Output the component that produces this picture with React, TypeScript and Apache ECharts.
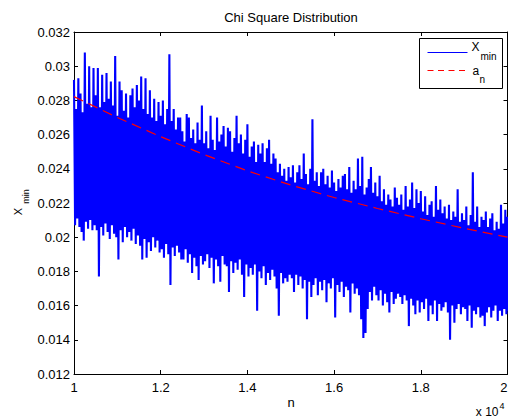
import React, { useEffect, useRef } from "react";
import * as echarts from "echarts";

// n axis: one column every 50 values of n, starting at 10000
const N_START = 10000;
const N_STEP = 50;

// X_min: upper and lower excursions read per column (values)
const xminHigh = [
  0.0292, 0.0275, 0.0293, 0.0284, 0.0273, 0.0308, 0.0278, 0.0300, 0.0276, 0.0299,
  0.0283, 0.0299, 0.0276, 0.0295, 0.0279, 0.0296, 0.0281, 0.0291, 0.0277, 0.0306,
  0.0271, 0.0291, 0.0286, 0.0274, 0.0284, 0.0270, 0.0283, 0.0287, 0.0276, 0.0289,
  0.0280, 0.0294, 0.0275, 0.0293, 0.0272, 0.0286, 0.0270, 0.0281, 0.0268, 0.0279,
  0.0271, 0.0280, 0.0266, 0.0275, 0.0307, 0.0268, 0.0275, 0.0263, 0.0270, 0.0270,
  0.0262, 0.0256, 0.0272, 0.0270, 0.0258, 0.0263, 0.0255, 0.0267, 0.0257, 0.0277,
  0.0255, 0.0262, 0.0252, 0.0271, 0.0257, 0.0251, 0.0270, 0.0256, 0.0260, 0.0265,
  0.0253, 0.0264, 0.0262, 0.0250, 0.0258, 0.0271, 0.0255, 0.0260, 0.0249, 0.0257,
  0.0266, 0.0247, 0.0253, 0.0256, 0.0244, 0.0254, 0.0249, 0.0255, 0.0244, 0.0252,
  0.0257, 0.0243, 0.0249, 0.0246, 0.0238, 0.0243, 0.0236, 0.0240, 0.0233, 0.0241,
  0.0235, 0.0242, 0.0232, 0.0238, 0.0242, 0.0234, 0.0249, 0.0237, 0.0231, 0.0240,
  0.0269, 0.0233, 0.0238, 0.0230, 0.0238, 0.0240, 0.0231, 0.0236, 0.0229, 0.0239,
  0.0232, 0.0227, 0.0234, 0.0229, 0.0236, 0.0237, 0.0228, 0.0241, 0.0226, 0.0233,
  0.0228, 0.0246, 0.0230, 0.0247, 0.0225, 0.0229, 0.0234, 0.0241, 0.0226, 0.0232,
  0.0224, 0.0236, 0.0221, 0.0228, 0.0219, 0.0225, 0.0222, 0.0218, 0.0229, 0.0223,
  0.0219, 0.0225, 0.0216, 0.0230, 0.0218, 0.0222, 0.0232, 0.0217, 0.0228, 0.0220,
  0.0227, 0.0215, 0.0224, 0.0213, 0.0219, 0.0221, 0.0212, 0.0230, 0.0216, 0.0222,
  0.0214, 0.0218, 0.0211, 0.0219, 0.0210, 0.0215, 0.0212, 0.0228, 0.0209, 0.0214,
  0.0210, 0.0218, 0.0207, 0.0213, 0.0238, 0.0209, 0.0218, 0.0206, 0.0212, 0.0210,
  0.0215, 0.0206, 0.0211, 0.0214, 0.0204, 0.0209, 0.0205, 0.0219, 0.0208, 0.0216, 0.0212,
];

const xminLow = [
  0.0207, 0.0211, 0.0206, 0.0203, 0.0198, 0.0209, 0.0205, 0.0210, 0.0204, 0.0207,
  0.0204, 0.0177, 0.0206, 0.0201, 0.0208, 0.0203, 0.0199, 0.0207, 0.0202, 0.0200,
  0.0187, 0.0204, 0.0197, 0.0206, 0.0200, 0.0203, 0.0198, 0.0205, 0.0196, 0.0201,
  0.0195, 0.0187, 0.0199, 0.0188, 0.0197, 0.0192, 0.0200, 0.0194, 0.0198, 0.0191,
  0.0193, 0.0188, 0.0196, 0.0190, 0.0172, 0.0194, 0.0189, 0.0195, 0.0191, 0.0187,
  0.0187, 0.0193, 0.0185, 0.0190, 0.0179, 0.0188, 0.0183, 0.0175, 0.0189, 0.0184,
  0.0186, 0.0190, 0.0182, 0.0188, 0.0173, 0.0187, 0.0183, 0.0174, 0.0189, 0.0184,
  0.0183, 0.0168, 0.0186, 0.0179, 0.0185, 0.0181, 0.0187, 0.0178, 0.0165, 0.0184,
  0.0177, 0.0182, 0.0178, 0.0184, 0.0157, 0.0180, 0.0176, 0.0183, 0.0172, 0.0179,
  0.0175, 0.0181, 0.0177, 0.0170, 0.0154, 0.0179, 0.0173, 0.0176, 0.0174, 0.0178,
  0.0176, 0.0168, 0.0178, 0.0172, 0.0177, 0.0170, 0.0175, 0.0152, 0.0174, 0.0165,
  0.0172, 0.0176, 0.0166, 0.0174, 0.0169, 0.0175, 0.0162, 0.0173, 0.0170, 0.0176,
  0.0153, 0.0172, 0.0168, 0.0174, 0.0165, 0.0171, 0.0169, 0.0156, 0.0173, 0.0167,
  0.0170, 0.0166, 0.0152, 0.0141, 0.0144, 0.0158, 0.0168, 0.0163, 0.0171, 0.0166,
  0.0163, 0.0169, 0.0160, 0.0167, 0.0162, 0.0156, 0.0168, 0.0161, 0.0164, 0.0167,
  0.0165, 0.0161, 0.0166, 0.0163, 0.0148, 0.0164, 0.0160, 0.0155, 0.0163, 0.0156,
  0.0162, 0.0158, 0.0164, 0.0151, 0.0160, 0.0155, 0.0163, 0.0151, 0.0161, 0.0157,
  0.0159, 0.0162, 0.0156, 0.0140, 0.0160, 0.0150, 0.0158, 0.0161, 0.0155, 0.0159,
  0.0158, 0.0151, 0.0160, 0.0147, 0.0157, 0.0155, 0.0159, 0.0153, 0.0154, 0.0148,
  0.0156, 0.0159, 0.0153, 0.0157, 0.0160, 0.0151, 0.0157, 0.0154, 0.0158, 0.0155, 0.0157,
];

// a_n curve
const anN = [10000, 11000, 12000, 13000, 14000, 15000, 16000, 17000, 18000, 19000, 20000];
const anValues = [0.02822, 0.02700, 0.02588, 0.02483, 0.02388, 0.02305, 0.02232, 0.02168, 0.02108, 0.02052, 0.02000];

const FONT = '"Liberation Sans", Arial, Helvetica, sans-serif';

function txt(text: string, x: number, y: number, size: number, align: string, extra: any = {}) {
  return {
    type: "text",
    x,
    y,
    z: 100,
    ...extra,
    style: {
      text,
      fontSize: size,
      fontFamily: FONT,
      fill: "#000",
      textAlign: align,
      align,
      textVerticalAlign: "middle",
      verticalAlign: "middle",
    },
  };
}

export default function App() {
  const ref = useRef<HTMLDivElement>(null);

  useEffect(() => {
    if (!ref.current) return;
    const chart = echarts.init(ref.current, undefined, { renderer: "svg" });

    const blueData: number[][] = [];
    xminHigh.forEach((h, i) => {
      const n = N_START + i * N_STEP;
      blueData.push([n, h]);
      if (i < xminLow.length) blueData.push([n + N_STEP / 2, xminLow[i]]);
    });
    const redData = anN.map((n, i) => [n, anValues[i]]);

    const axisCommon = {
      axisLine: { show: true, onZero: false, lineStyle: { color: "#000", width: 1 } },
      axisTick: { show: true, inside: true, length: 4, lineStyle: { color: "#000", width: 1 } },
      splitLine: { show: false },
    };

    chart.setOption({
      animation: false,
      backgroundColor: "#fff",
      grid: {
        left: 74,
        right: 0.5,
        top: 32,
        bottom: 43,
        containLabel: false,
        outerBoundsMode: "none",
      },
      xAxis: [
        {
          type: "value",
          min: 10000,
          max: 20000,
          interval: 2000,
          position: "bottom",
          ...axisCommon,
          axisLabel: {
            color: "#000",
            fontSize: 13,
            fontFamily: FONT,
            margin: 7,
            alignMaxLabel: "right",
            formatter: (v: number) => String(v / 10000),
          },
        },
        {
          type: "value",
          min: 10000,
          max: 20000,
          interval: 2000,
          position: "top",
          ...axisCommon,
          axisLabel: { show: false },
        },
      ],
      yAxis: [
        {
          type: "value",
          min: 0.012,
          max: 0.032,
          interval: 0.002,
          position: "left",
          ...axisCommon,
          axisLabel: {
            color: "#000",
            fontSize: 13,
            fontFamily: FONT,
            margin: 4,
            formatter: (v: number) => String(parseFloat(v.toFixed(3))),
          },
        },
        {
          type: "value",
          min: 0.012,
          max: 0.032,
          interval: 0.002,
          position: "right",
          ...axisCommon,
          axisLabel: { show: false },
        },
      ],
      series: [
        {
          name: "X_min",
          type: "line",
          xAxisIndex: 0,
          yAxisIndex: 0,
          data: blueData,
          showSymbol: false,
          symbol: "none",
          lineStyle: { color: "#0000ff", width: 2.1, join: "miter", miterLimit: 2 },
          clip: true,
          z: 2,
        },
        {
          name: "a_n",
          type: "line",
          xAxisIndex: 0,
          yAxisIndex: 0,
          data: redData,
          showSymbol: false,
          symbol: "none",
          lineStyle: { color: "#ff0000", width: 1.2, type: [10, 6] },
          clip: true,
          z: 3,
        },
      ],
      graphic: [
        txt("Chi Square Distribution", 291, 17.5, 13, "center"),
        txt("n", 291, 402, 13, "center"),
        txt("x 10", 498.5, 411.5, 12, "right"),
        txt("4", 499.5, 405.5, 9, "left"),
        txt("X", 17.5, 211.5, 11, "center", { rotation: Math.PI / 2 }),
        txt("min", 25.5, 196.5, 9, "center", { rotation: Math.PI / 2 }),
        {
          type: "rect",
          z: 100,
          shape: { x: 419.5, y: 38.5, width: 83, height: 50 },
          style: { fill: "#fff", stroke: "#000", lineWidth: 1 },
        },
        {
          type: "line",
          z: 101,
          shape: { x1: 427.5, y1: 52.5, x2: 467.5, y2: 52.5 },
          style: { stroke: "#0000ff", lineWidth: 1 },
        },
        {
          type: "line",
          z: 101,
          shape: { x1: 427.5, y1: 70.5, x2: 467.5, y2: 70.5 },
          style: { stroke: "#ff0000", lineWidth: 1, lineDash: [6, 4.5] },
        },
        txt("X", 471.5, 46.7, 12, "left", { z: 102 }),
        txt("min", 480.5, 56.5, 10, "left", { z: 102 }),
        txt("a", 472.5, 70.8, 12, "left", { z: 102 }),
        txt("n", 479.5, 79.6, 10, "left", { z: 102 }),
      ],
    });

    return () => chart.dispose();
  }, []);

  return (
    <div
      ref={ref}
      style={{ position: "absolute", left: 0, top: 0, width: 508, height: 417 }}
    />
  );
}
